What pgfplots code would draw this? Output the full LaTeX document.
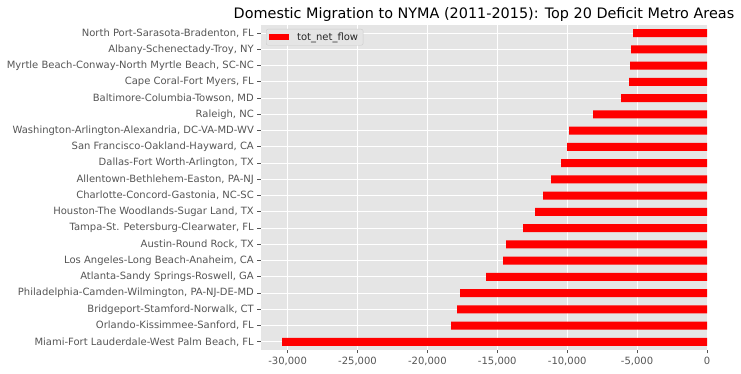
\documentclass[border=0pt]{standalone}
\usepackage{fontspec}
\setmainfont{DejaVu Sans}
\usepackage{pgfplots}
\pgfplotsset{compat=1.18}
\definecolor{bgray}{HTML}{E5E5E5}
\definecolor{tgray}{HTML}{555555}
\definecolor{lgray}{HTML}{CCCCCC}
\begin{document}
\begin{tikzpicture}
\useasboundingbox (0,0) rectangle (741bp,374bp);
\begin{axis}[
  at={(261bp,24bp)}, anchor=south west,
  scale only axis, width=446bp, height=325bp,
  xmin=-31902, xmax=0, ymin=-0.5, ymax=19.5,
  enlargelimits=false,
  scaled x ticks=false,
  xbar, bar width=0.5,
  axis background/.style={fill=bgray},
  axis line style={draw=none},
  grid=major,
  major grid style={white, line width=1bp},
  tick align=outside,
  xtick pos=bottom, ytick pos=left,
  major tick length=3.5bp,
  every tick/.style={tgray, line width=0.8bp},
  xtick={-30000,-25000,-20000,-15000,-10000,-5000,0},
  xticklabels={{-30,000},{-25,000},{-20,000},{-15,000},{-10,000},{-5,000},{0}},
  ytick={0,...,19},
  yticklabels={
    {Miami-Fort Lauderdale-West Palm Beach, FL},
    {Orlando-Kissimmee-Sanford, FL},
    {Bridgeport-Stamford-Norwalk, CT},
    {Philadelphia-Camden-Wilmington, PA-NJ-DE-MD},
    {Atlanta-Sandy Springs-Roswell, GA},
    {Los Angeles-Long Beach-Anaheim, CA},
    {Austin-Round Rock, TX},
    {Tampa-St. Petersburg-Clearwater, FL},
    {Houston-The Woodlands-Sugar Land, TX},
    {Charlotte-Concord-Gastonia, NC-SC},
    {Allentown-Bethlehem-Easton, PA-NJ},
    {Dallas-Fort Worth-Arlington, TX},
    {San Francisco-Oakland-Hayward, CA},
    {Washington-Arlington-Alexandria, DC-VA-MD-WV},
    {Raleigh, NC},
    {Baltimore-Columbia-Towson, MD},
    {Cape Coral-Fort Myers, FL},
    {Myrtle Beach-Conway-North Myrtle Beach, SC-NC},
    {Albany-Schenectady-Troy, NY},
    {North Port-Sarasota-Bradenton, FL}},
  ticklabel style={font=\fontsize{10bp}{12bp}\selectfont, text=tgray},
  yticklabel style={inner sep=0pt, xshift=-3.5bp},
  xticklabel style={inner sep=0pt, yshift=-3.5bp},
  title={Domestic Migration to NYMA (2011-2015): Top 20 Deficit Metro Areas},
  title style={font=\fontsize{14.4bp}{16bp}\selectfont, inner sep=0pt, yshift=-3bp},
  legend style={at={(rel axis cs:0,1)}, anchor=north west, xshift=5bp, yshift=-4bp,
    draw=lgray, fill=bgray, rounded corners=2bp,
    font=\fontsize{10bp}{12bp}\selectfont, text=black!85,
    inner xsep=3bp, inner ysep=1.5bp,
    /tikz/every odd column/.append style={column sep=6bp}},
  legend image code/.code={\fill[red, sharp corners] (0bp,-3.2bp) rectangle (20bp,3.2bp);},
  legend cell align=left,
]
\addplot[fill=red, draw=none] coordinates {
  (-30383,0) (-18301,1) (-17872,2) (-17657,3) (-15799,4)
  (-14583,5) (-14369,6) (-13154,7) (-12296,8) (-11724,9)
  (-11152,10) (-10437,11) (-10008,12) (-9865,13) (-8150,14)
  (-6148,15) (-5576,16) (-5505,17) (-5433,18) (-5290,19)};
\addlegendentry{tot\_net\_flow}
\end{axis}
\end{tikzpicture}
\end{document}
